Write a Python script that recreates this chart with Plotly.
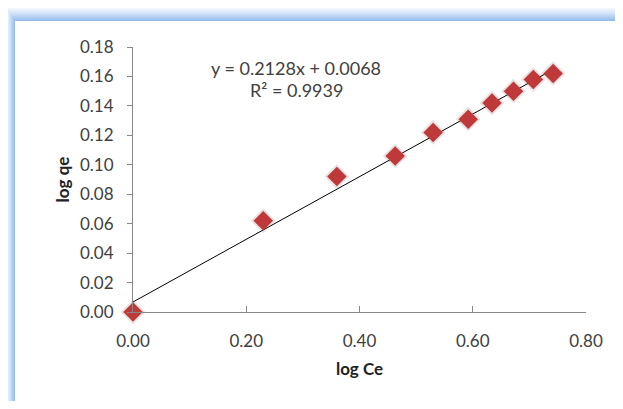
import plotly.graph_objects as go

# ---- data ----
log_ce = [0.000, 0.230, 0.360, 0.463, 0.530, 0.592, 0.634, 0.672, 0.707, 0.742]
log_qe = [0.000, 0.062, 0.092, 0.106, 0.122, 0.131, 0.142, 0.150, 0.158, 0.162]
slope = 0.2128
intercept = 0.0068
eq_text = "y = 0.2128x + 0.0068"
r2_text = "R² = 0.9939"
x_ticks = [0.0, 0.2, 0.4, 0.6, 0.8]
y_ticks = [0.00, 0.02, 0.04, 0.06, 0.08, 0.10, 0.12, 0.14, 0.16, 0.18]

# page offset (body margin) of the figure in the screenshot
OFF = 8
W, H = 623 - 2 * OFF, 409 - 2 * OFF
ML, MT = 133 - OFF, 47 - OFF
PW, PH = 453, 265
MR = W - ML - PW
MB = H - MT - PH

def px(x):
    return (x - OFF - ML) / PW

def py(y):
    return (MT + PH - (y - OFF)) / PH

fig = go.Figure()

# trendline
x_line = [min(log_ce), max(log_ce)]
y_line = [slope * v + intercept for v in x_line]
fig.add_trace(go.Scatter(x=x_line, y=y_line, mode="lines",
                         line=dict(color="black", width=1), hoverinfo="skip",
                         showlegend=False))

# soft shadow
fig.add_trace(go.Scatter(x=log_ce, y=log_qe, mode="markers", cliponaxis=False,
                         marker=dict(symbol="diamond", size=19, color="rgba(120,60,60,0.16)",
                                     line=dict(width=0)),
                         showlegend=False, hoverinfo="skip"))
fig.add_trace(go.Scatter(x=log_ce, y=log_qe, mode="markers", cliponaxis=False,
                         marker=dict(symbol="diamond", size=15, color="#C0393A",
                                     line=dict(width=0)),
                         showlegend=False))

# frame glow
shapes = []
def lerp(c1, c2, t):
    return "rgb(%d,%d,%d)" % tuple(round(a + (b - a) * t) for a, b in zip(c1, c2))

white = (255, 255, 255)
blue = (150, 188, 238)
N = 14
XR = 640
YB = 430
for k in range(N, 0, -1):
    t = 1 - (k - 1) / N
    shapes.append(dict(type="rect", xref="paper", yref="paper", layer="below",
                       x0=px(15 - k * 10 / N), x1=px(XR),
                       y0=py(21 - k * 15 / N), y1=py(YB),
                       fillcolor=lerp(white, blue, t ** 1.3), line=dict(width=0)))
shapes.append(dict(type="rect", xref="paper", yref="paper", layer="below",
                   x0=px(15), x1=px(XR), y0=py(21), y1=py(YB),
                   fillcolor="white", line=dict(width=0)))

font_family = "Lato, 'Open Sans', sans-serif"
fig.update_layout(
    width=W, height=H, autosize=False,
    margin=dict(l=ML, r=MR, t=MT, b=MB),
    paper_bgcolor="white", plot_bgcolor="rgba(0,0,0,0)",
    shapes=shapes,
    font=dict(family=font_family, size=17, color="#404040"),
    xaxis=dict(range=[0, 0.8], tickvals=x_ticks, tickformat=".2f", automargin=False,
               showgrid=False, zeroline=False, showline=True, linecolor="#888888",
               linewidth=1, ticks="inside", ticklen=6, tickcolor="#888888",
               ticklabelstandoff=14,
               title=dict(text="<b>log Ce</b>", font=dict(size=17, color="#222222"), standoff=12)),
    yaxis=dict(range=[0, 0.18], tickvals=y_ticks, tickformat=".2f", automargin=False,
               showgrid=False, zeroline=False, showline=True, linecolor="#888888",
               linewidth=1, ticks="outside", ticklen=5, tickcolor="#888888",
               ticklabelstandoff=10,
               title=dict(text="<b>log qe</b>", font=dict(size=17, color="#222222"), standoff=6)),
    annotations=[
        dict(x=0.288, y=0.166, xref="x", yref="y", text=eq_text, showarrow=False,
             font=dict(size=18, color="#404040"), xanchor="center", yanchor="middle"),
        dict(x=0.288, y=0.151, xref="x", yref="y", text=r2_text, showarrow=False,
             font=dict(size=18, color="#404040"), xanchor="center", yanchor="middle"),
    ],
)

fig.write_html("out.html")
